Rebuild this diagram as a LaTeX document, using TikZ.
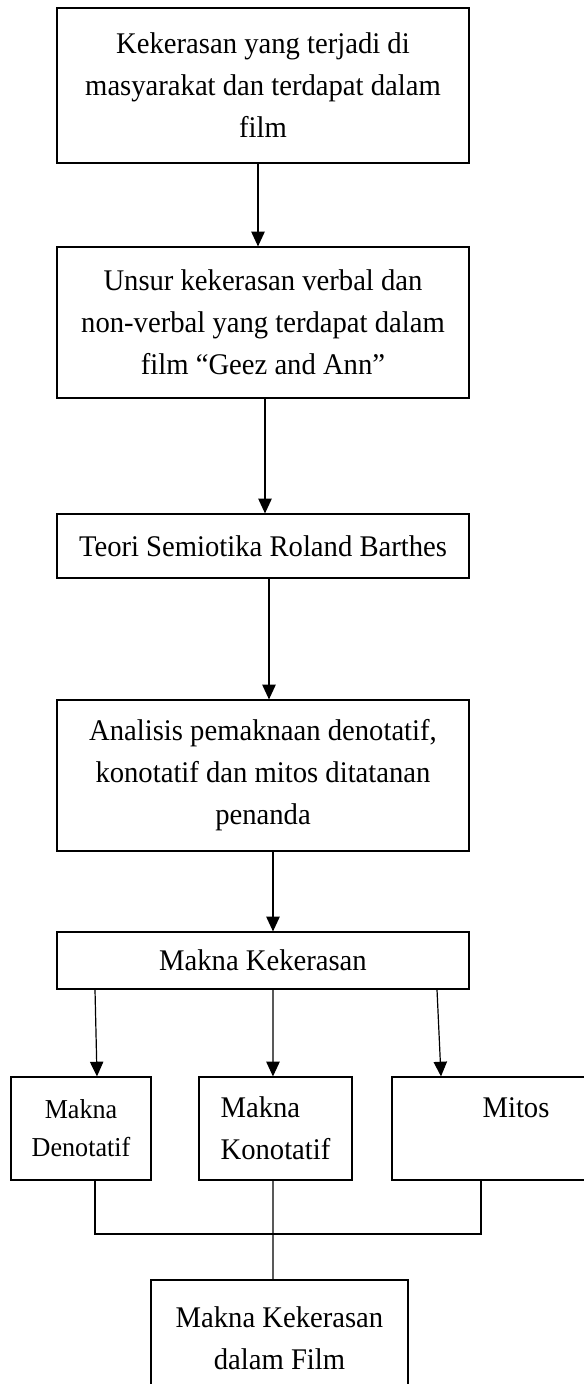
\documentclass[tikz,border=0pt]{standalone}
\usepackage{fontspec}
\setmainfont[FakeStretch = 0.955]{Liberation Serif}
\usetikzlibrary{arrows.meta}
\tikzset{block/.style = {shape = rectangle, draw, line width = 0.9pt, inner sep = 2pt, align = center, font = \fontsize{22.5}{31.5}\selectfont}}
\tikzset{smallblock/.style = {block, font = \fontsize{20.5}{28.5}\selectfont}}
\tikzset{edge/.style = {->, > = {Triangle[length = 11pt, width = 10pt]}, line width = 0.9pt}}
\tikzset{link/.style = {line width = 0.9pt}}

\begin{document}
\begin{tikzpicture}[x = 0.75pt, y = -0.75pt]
			\useasboundingbox (0, 0) rectangle (584, 1384);
			\clip (0, 0) rectangle (584, 1384);

			\node[block, minimum width = 309pt, minimum height = 116.25pt] (a) at (263, 85.5) {Kekerasan yang terjadi di\\masyarakat dan terdapat dalam\\film};
			\node[block, minimum width = 309pt, minimum height = 113.25pt] (b) at (263, 322.5) {Unsur kekerasan verbal dan\\non-verbal yang terdapat dalam\\film “Geez and Ann”};
			\node[block, minimum width = 309pt, minimum height = 48pt] (c) at (263, 546) {Teori Semiotika Roland Barthes};
			\node[block, minimum width = 309pt, minimum height = 113.25pt] (d) at (263, 775.5) {Analisis pemaknaan denotatif,\\konotatif dan mitos ditatanan\\penanda};
			\node[block, minimum width = 309pt, minimum height = 42.75pt] (e) at (263, 960.5) {Makna Kekerasan};
			\node[smallblock, minimum width = 105pt, minimum height = 77.25pt] (f) at (81, 1128.5) {Makna\\Denotatif};
			\node[block, align = left, minimum width = 114.75pt, minimum height = 77.25pt] (g) at (275.5, 1128.5) {Makna\\Konotatif};
			\node[block, minimum width = 186pt, minimum height = 77.25pt] (h) at (516, 1128.5) {Mitos\\\mbox{}};
			\node[block, minimum width = 192.75pt, minimum height = 87pt] (i) at (279.5, 1338) {Makna Kekerasan\\dalam Film};
			\coordinate (j) at (273, 1234);

			\draw[edge] ([xshift = -3.75pt]a.south) to ([xshift = -3.75pt]b.north);
			\draw[edge] ([xshift = 1.5pt]b.south) to ([xshift = 1.5pt]c.north);
			\draw[edge] ([xshift = 4.5pt]c.south) to ([xshift = 4.5pt]d.north);
			\draw[edge] ([xshift = 7.5pt]d.south) to ([xshift = 7.5pt]e.north);
			\draw[edge] ([xshift = -126pt]e.south) to ([xshift = 12pt]f.north);
			\draw[edge] ([xshift = 7.5pt]e.south) to ([xshift = -1.9pt]g.north);
			\draw[edge] ([xshift = 130.5pt]e.south) to ([xshift = -56.25pt]h.north);
			\draw[link] ([xshift = 10.5pt]f.south) |- (j) -| ([xshift = -26.25pt]h.south);
			\draw[link] ([xshift = -1.9pt]g.south) -- (j) -- ([xshift = -4.9pt]i.north);
		\end{tikzpicture}
\end{document}
